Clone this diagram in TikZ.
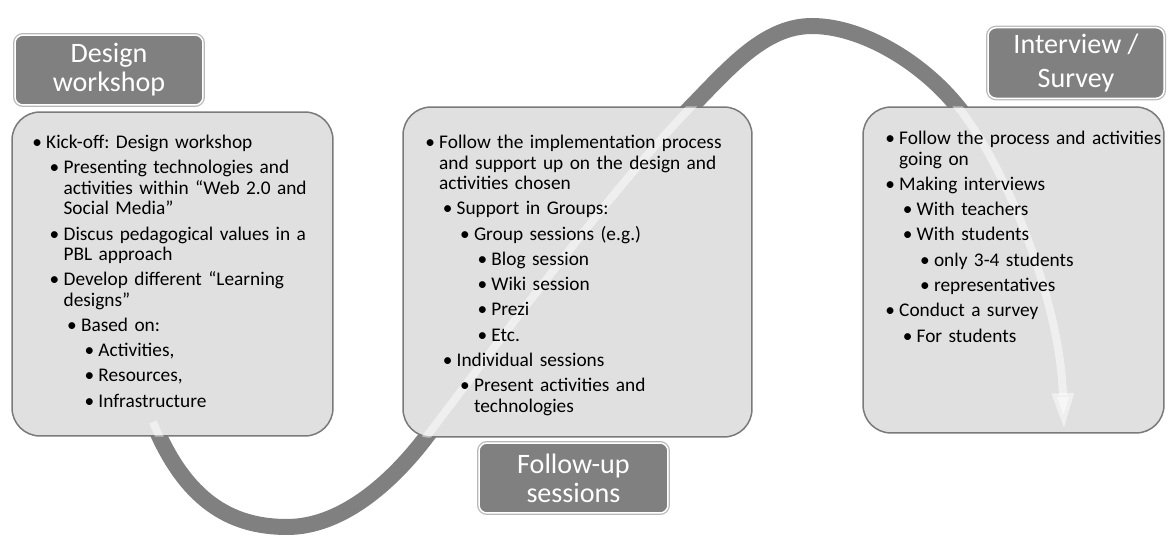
\documentclass[tikz,border=0pt]{standalone}
\usepackage{fontspec}
\setmainfont{Carlito}
\usetikzlibrary{arrows.meta}

\newcommand{\li}[2]{\par\noindent\hangindent=\dimexpr9.9pt*#1+7.9pt\relax\hangafter=1%
  \hspace*{\dimexpr9.9pt*#1\relax}\makebox[7.9pt][l]{\textbullet}#2}

\begin{document}
\begin{tikzpicture}[x=0.02cm, y=-0.02cm,
    band/.style={draw=black!50, line width=0.32cm},
    stripe/.style={draw=white, opacity=0.5, line width=0.16cm, -{Triangle[length=21pt, width=11.5pt]}},
    cbox/.style={draw=black!52, line width=0.03cm, fill=black!12, rounded corners=0.56cm, inner sep=0pt},
    ctext/.style={anchor=north west, inner sep=0pt, text width=6.8cm,
      font=\fontsize{11}{11.6}\selectfont\raggedright\frenchspacing\setlength{\parskip}{2.8pt}},
    tbox/.style={fill=black!50, draw=white, line width=0.03cm, preaction={draw=black!28, line width=0.08cm},
      rounded corners=0.16cm, text=white, align=center, minimum height=1.4cm,
      font=\fontsize{16}{16.4}\selectfont}]
  \useasboundingbox (0,0) rectangle (1168,536);

  \coordinate (bandstart) at (153,422);
  \coordinate (bandend) at (1064,430);
  \def\bandpath{(bandstart) .. controls (185,500) and (230,527) .. (287,527)
    .. controls (340,527) and (390,485) .. (427,436)
    .. controls (520,313) and (620,180) .. (691,107)
    .. controls (730,67) and (765,26) .. (812,26)
    .. controls (860,26) and (920,60) .. (958,107)
    .. controls (1005,165) and (1060,300) .. (bandend)}
  \draw[band] \bandpath;

  \node[cbox, minimum width=6.42cm, minimum height=6.48cm] (dwbox) at (172.5,274) {};
  \node[cbox, minimum width=6.98cm, minimum height=6.6cm] (fubox) at (577.5,272) {};
  \node[cbox, minimum width=6.02cm, minimum height=6.52cm] (isbox) at (1013.5,270) {};

  \begin{scope}
    \clip[rounded corners=0.56cm] (dwbox.north west) rectangle (dwbox.south east)
      (fubox.north west) rectangle (fubox.south east)
      (isbox.north west) rectangle (isbox.south east);
    \draw[stripe] \bandpath;
  \end{scope}

  \node[ctext] (dwtext) at (32,123) {%
    \li{0}{Kick-off: Design workshop}
    \li{1}{Presenting technologies and\newline activities within “Web 2.0 and\newline Social Media”}
    \li{1}{Discus pedagogical values in a\newline PBL approach}
    \li{1}{Develop different “Learning\newline designs”}
    \li{2}{Based on:}
    \li{3}{Activities,}
    \li{3}{Resources,}
    \li{3}{Infrastructure}\par};
  \node[ctext] (futext) at (425,123) {%
    \li{0}{Follow the implementation process\newline and support up on the design and\newline activities chosen}
    \li{1}{Support in Groups:}
    \li{2}{Group sessions (e.g.)}
    \li{3}{Blog session}
    \li{3}{Wiki session}
    \li{3}{Prezi}
    \li{3}{Etc.}
    \li{1}{Individual sessions}
    \li{2}{Present activities and\newline technologies}\par};
  \node[ctext] (istext) at (885,119) {%
    \li{0}{Follow the process and activities\newline going on}
    \li{0}{Making interviews}
    \li{1}{With teachers}
    \li{1}{With students}
    \li{2}{only 3-4 students}
    \li{2}{representatives}
    \li{0}{Conduct a survey}
    \li{1}{For students}\par};

  \node[tbox, minimum width=3.76cm] (dw) at (109,70) {Design\\workshop};
  \node[tbox, minimum width=3.78cm] (fu) at (573.5,478) {Follow-up\\sessions};
  \node[tbox, minimum width=3.52cm] (is) at (1076,63) {Interview /\\[3.4pt]Survey};
\end{tikzpicture}
\end{document}
